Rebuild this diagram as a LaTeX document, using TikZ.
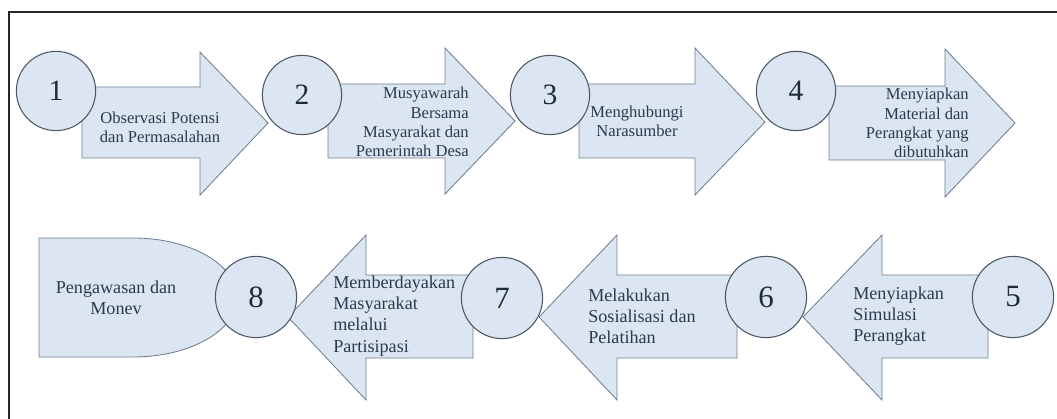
\documentclass[tikz,border=0pt]{standalone}
\usepackage{fontspec}
\setmainfont{Liberation Serif}
\usetikzlibrary{positioning}

\definecolor{blockfill}{HTML}{DCE6F2}
\definecolor{arrowline}{HTML}{6E7E90}
\definecolor{circleline}{HTML}{4A5663}
\definecolor{steptext}{HTML}{2B3A4C}
\definecolor{numtext}{HTML}{1F2B3A}

\begin{document}
\begin{tikzpicture}[x=0.025cm, y=0.025cm,
			blockshape/.style={draw=arrowline, fill=blockfill, line width=0.6pt},
			numcircle/.style={circle, draw=circleline, fill=blockfill, line width=0.75pt, inner sep=0pt, text=numtext},
			topnum/.style={numcircle, minimum size=1.98cm, font=\fontsize{21}{25}\selectfont},
			botnum/.style={numcircle, minimum size=2.03cm, font=\fontsize{22}{26}\selectfont},
			toptext/.style={inner sep=0pt, text=steptext, font=\fontsize{11.8}{13.6}\selectfont},
			bottext/.style={inner sep=0pt, text=steptext, align=left, font=\fontsize{12.9}{15}\selectfont}]
			\useasboundingbox (0,0) rectangle (1057,-419);
			\draw[line width=0.9pt, black!85] (1060,-12) -- (9,-12) -- (9,-425);

			% top row: arrows to the right
			\draw[blockshape] (82,-87) -- (200,-87) -- (200,-52) -- (268,-123) -- (200,-195) -- (200,-158) -- (82,-158) -- cycle;
			\draw[blockshape] (328,-84) -- (445,-84) -- (445,-48) -- (515,-121) -- (445,-194) -- (445,-158) -- (328,-158) -- cycle;
			\draw[blockshape] (579,-84) -- (695,-84) -- (695,-48) -- (765,-122) -- (695,-195) -- (695,-158) -- (579,-158) -- cycle;
			\draw[blockshape] (829,-86) -- (945,-86) -- (945,-49) -- (1015,-123) -- (945,-197) -- (945,-160) -- (829,-160) -- cycle;

			% bottom row: arrows to the left, and the end block
			\draw[blockshape] (39,-238) -- (133,-238) arc[start angle=90, end angle=-90, x radius=104, y radius=59.5] -- (39,-357) -- cycle;
			\draw[blockshape] (288,-317) -- (366,-235) -- (366,-275) -- (473,-275) -- (473,-358) -- (366,-358) -- (366,-400) -- cycle;
			\draw[blockshape] (539,-317) -- (617,-235) -- (617,-275) -- (737,-275) -- (737,-358) -- (617,-358) -- (617,-400) -- cycle;
			\draw[blockshape] (803,-317) -- (882,-235) -- (882,-275) -- (988,-275) -- (988,-358) -- (882,-358) -- (882,-400) -- cycle;

			\node [topnum] (c1) at (56,-91) {1};
			\node [topnum] (c2) at (302,-95) {2};
			\node [topnum] (c3) at (550,-95) {3};
			\node [topnum] (c4) at (796,-91) {4};
			\node [botnum] (c5) at (1013,-297) {5};
			\node [botnum] (c6) at (766,-297) {6};
			\node [botnum] (c7) at (502,-298) {7};
			\node [botnum] (c8) at (256,-297) {8};

			\node [toptext, align=center] (t1) at (160,-127) {Observasi Potensi\\dan Permasalahan};
			\node [toptext, align=right, anchor=east] (t2) at (469,-122) {Musyawarah\\Bersama\\Masyarakat dan\\Pemerintah Desa};
			\node [toptext, align=center] (t3) at (637,-121) {Menghubungi\\Narasumber};
			\node [toptext, align=right, anchor=east] (t4) at (969,-123) {Menyiapkan\\Material dan\\Perangkat yang\\dibutuhkan};
			\node [bottext, anchor=west] (t5) at (853,-316) {Menyiapkan\\Simulasi\\Perangkat};
			\node [bottext, anchor=west] (t6) at (588,-316) {Melakukan\\Sosialisasi dan\\Pelatihan};
			\node [bottext, anchor=west] (t7) at (333,-316) {Memberdayakan\\Masyarakat\\melalui\\Partisipasi};
			\node [bottext, align=center] (t8) at (116,-298) {Pengawasan dan\\Monev};
		\end{tikzpicture}
\end{document}
